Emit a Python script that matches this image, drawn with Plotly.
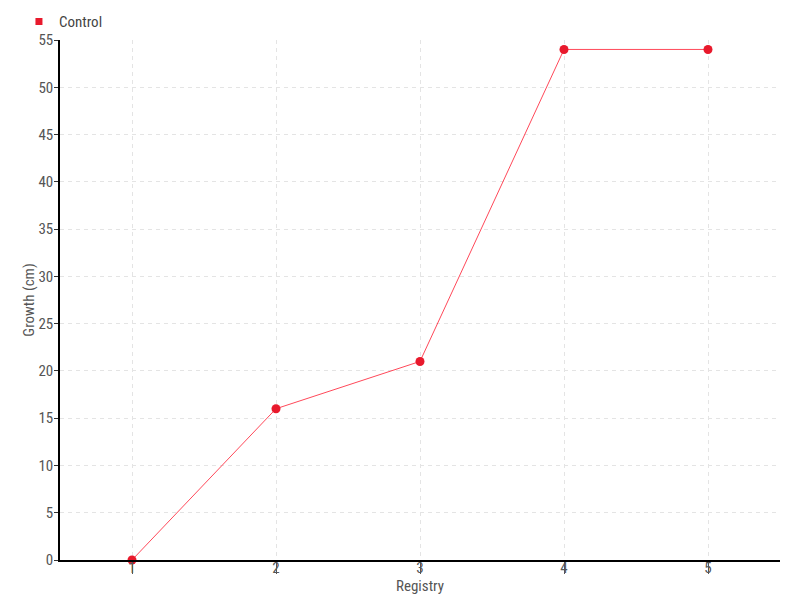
import plotly.graph_objs as go

registry = [1, 2, 3, 4, 5]
growth = [0, 16, 21, 54, 54]
y_ticks = [0, 5, 10, 15, 20, 25, 30, 35, 40, 45, 50, 55]

font_family = "Liberation Sans Narrow, Roboto Condensed, DejaVu Sans Condensed, sans-serif"

fig = go.Figure()

fig.add_trace(go.Scatter(
    x=registry,
    y=growth,
    mode='lines+markers',
    name='Control',
    showlegend=False,
    line=dict(color='rgba(255,40,60,0.85)', width=1),
    marker=dict(color='#e8192c', size=9, symbol='circle'),
    cliponaxis=False
))

# legend entry only: small square swatch like the original
fig.add_trace(go.Scatter(
    x=[None],
    y=[None],
    mode='markers',
    name='Control',
    marker=dict(color='#e8192c', size=7, symbol='square')
))

fig.update_layout(
    width=800,
    height=600,
    margin=dict(l=52, r=28, t=32, b=48, autoexpand=False),
    plot_bgcolor='white',
    paper_bgcolor='white',
    font=dict(family=font_family, size=15, color='#555555'),
    showlegend=True,
    legend=dict(
        x=-0.057, y=1.067, xanchor='left', yanchor='top',
        orientation='h',
        font=dict(size=15, color='#444444'),
        itemwidth=30,
        bgcolor='rgba(0,0,0,0)'
    ),
    xaxis=dict(
        title=dict(text='Registry', standoff=0, font=dict(size=15)),
        range=[0.5, 5.5],
        tickvals=registry,
        showgrid=True,
        gridcolor='#e4e4e4',
        griddash='4px,4px',
        zeroline=False,
        showline=True,
        linecolor='black',
        linewidth=1.5,
        ticks='outside',
        ticklen=12,
        tickcolor='#555555',
        ticklabelstandoff=-19,
        tickfont=dict(size=15, color='#555555')
    ),
    yaxis=dict(
        title=dict(text='Growth (cm)', standoff=0, font=dict(size=15)),
        range=[0, 55],
        tickvals=y_ticks,
        showgrid=True,
        gridcolor='#e4e4e4',
        griddash='4px,4px',
        zeroline=False,
        showline=True,
        linecolor='black',
        linewidth=1.5,
        ticks='outside',
        ticklen=4,
        tickcolor='#333333',
        ticklabelstandoff=-2,
        tickfont=dict(size=15, color='#555555')
    )
)

fig.write_html("out.html")
